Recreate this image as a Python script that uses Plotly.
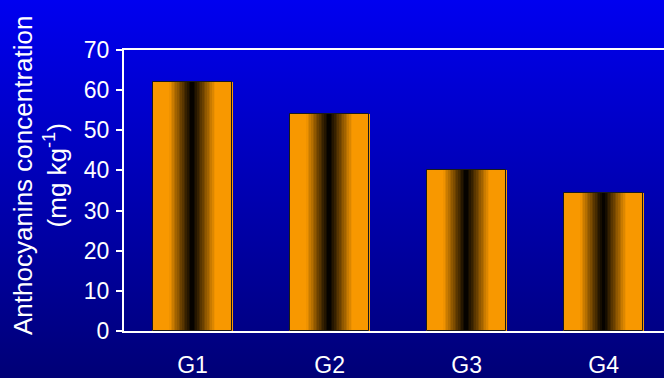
import plotly.graph_objects as go
import urllib.parse

categories = ["G1", "G2", "G3", "G4"]
values = [62, 54, 40, 34.5]
y_ticks = [0, 10, 20, 30, 40, 50, 60, 70]

W, H = 664, 378
L, R, T, B = 124, 0, 50, 47
pw, ph = W - L - R, H - T - B

fig = go.Figure()

bar_w = 0.58
N = 48
sw = bar_w / N
orange = (248, 152, 0)
for i in range(N):
    c = -1 + (i + 0.5) * 2 / N
    d = abs(c)
    f = min(1.0, d / 0.58)
    f = f ** 1.1
    col = "rgb(%d,%d,%d)" % tuple(int(v * f) for v in orange)
    fig.add_trace(go.Bar(
        x=categories, y=values, width=sw * 1.6, offset=-bar_w / 2 + i * sw - sw * 0.3,
        marker=dict(color=col, line=dict(width=0)), hoverinfo="skip", showlegend=False))
fig.add_trace(go.Bar(
    x=categories, y=values, width=bar_w, offset=-bar_w / 2,
    marker=dict(color="rgba(0,0,0,0)", line=dict(color="#1a1a1a", width=1)),
    showlegend=False))

svg = ('<svg xmlns="http://www.w3.org/2000/svg" width="10" height="100" preserveAspectRatio="none">'
       '<defs><linearGradient id="g" x1="0" y1="0" x2="0" y2="1">'
       '<stop offset="0" stop-color="rgb(0,0,240)"/><stop offset="1" stop-color="rgb(0,0,118)"/>'
       '</linearGradient></defs><rect width="10" height="100" fill="url(#g)"/></svg>')
uri = "data:image/svg+xml;charset=utf-8," + urllib.parse.quote(svg)

x0 = -L / pw
y_top = 1 + T / ph
fig.add_layout_image(dict(source=uri, xref="paper", yref="paper", x=x0, y=y_top,
                          sizex=W / pw, sizey=H / ph, sizing="stretch",
                          xanchor="left", yanchor="top", layer="below"))

fig.add_annotation(text="Anthocyanins concentration<br>(mg kg<sup>-1</sup>)",
                   xref="paper", yref="paper", x=(40 - L) / pw, y=1 - (176 - T) / ph,
                   xanchor="center", yanchor="middle",
                   textangle=-90, showarrow=False, align="center",
                   font=dict(family="Liberation Sans, Arial", size=26, color="white"))

fig.update_layout(
    width=W, height=H, margin=dict(l=L, r=R, t=T, b=B),
    paper_bgcolor="rgb(0,0,160)", plot_bgcolor="rgba(0,0,0,0)",
    barmode="overlay", bargap=0,
    font=dict(family="Liberation Sans, Arial", size=23, color="white"),
    xaxis=dict(type="category", range=[-0.5, 3.44], showgrid=False, zeroline=False,
               automargin=False,
               showline=True, linecolor="white", linewidth=2, mirror=True,
               ticks="", ticklabelstandoff=12, tickfont=dict(size=23, color="white")),
    yaxis=dict(range=[0, 70], tickvals=y_ticks, showgrid=False, zeroline=False,
               automargin=False,
               showline=True, linecolor="white", linewidth=2, mirror=False,
               ticks="outside", ticklen=6, tickwidth=2, tickcolor="white",
               ticklabelstandoff=2, tickfont=dict(size=23, color="white")),
)

fig.write_html("out.html")
